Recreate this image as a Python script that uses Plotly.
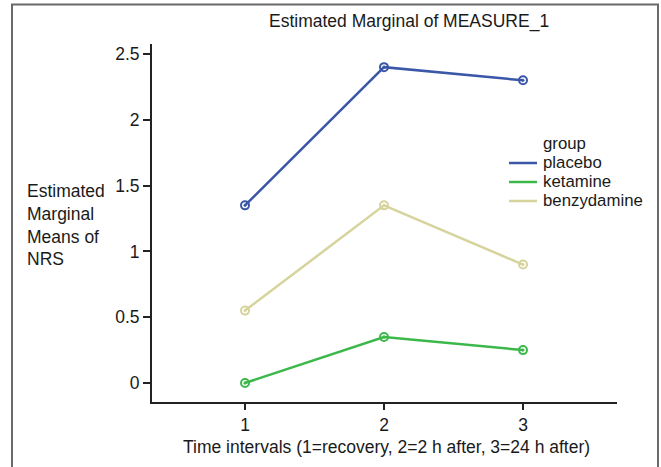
import plotly.graph_objects as go

# ---- data ----
time_points = [1, 2, 3]
groups = ["placebo", "ketamine", "benzydamine"]
placebo = [1.35, 2.40, 2.30]
ketamine = [0.00, 0.35, 0.25]
benzydamine = [0.55, 1.35, 0.90]
y_ticks = [0, 0.5, 1, 1.5, 2, 2.5]
y_tick_labels = ["0", "0.5", "1", "1.5", "2", "2.5"]
x_ticks = [1, 2, 3]
x_tick_labels = ["1", "2", "3"]

series = [placebo, ketamine, benzydamine]
colors = ["#3a57a8", "#3cb84a", "#d6d39c"]

FONT = "Liberation Sans, Arial, sans-serif"
FS = 17.5
LEG_FS = 16.8
TXT = "#1a1a1a"

fig = go.Figure()
for name, vals, col in zip(groups, series, colors):
    fig.add_trace(go.Scatter(
        x=time_points, y=vals, name=name, mode="lines+markers",
        line=dict(color=col, width=2.5),
        marker=dict(symbol="circle-open-dot", size=8, color=col, line=dict(width=2, color=col)),
        showlegend=False, hoverinfo="skip",
    ))

W, H = 661, 467
# target plot area in screen pixels: x 152..617, y 44..402
L, T = 152, 44
R = W - 617
B = H - 402
pw, ph = W - L - R, H - T - B

def px(x):
    return (x - L) / pw

def py(y):
    return 1 - (y - T) / ph

shapes = [
    dict(type="rect", xref="paper", yref="paper",
         x0=px(12), x1=px(658), y0=py(490), y1=py(4.5),
         line=dict(color="#6a6a6a", width=2), fillcolor="rgba(0,0,0,0)", layer="below"),
]
annotations = [
    dict(text="Estimated Marginal of MEASURE_1", xref="paper", yref="paper",
         x=px(409), y=py(22), xanchor="center", yanchor="middle", showarrow=False,
         font=dict(family=FONT, size=FS, color=TXT)),
    dict(text="Time intervals (1=recovery, 2=2 h after, 3=24 h after)", xref="paper", yref="paper",
         x=px(386.5), y=py(447), xanchor="center", yanchor="middle", showarrow=False,
         font=dict(family=FONT, size=FS, color=TXT)),
    dict(text="Estimated<br>Marginal<br>Means of<br>NRS", xref="paper", yref="paper",
         x=px(25), y=py(225), xanchor="left", yanchor="middle", align="left", showarrow=False,
         font=dict(family=FONT, size=FS, color=TXT)),
    dict(text="group", xref="paper", yref="paper",
         x=px(541), y=py(143), xanchor="left", yanchor="middle", showarrow=False,
         font=dict(family=FONT, size=LEG_FS, color=TXT)),
]
leg_y = [162, 181, 200]
for name, col, yy in zip(groups, colors, leg_y):
    shapes.append(dict(type="line", xref="paper", yref="paper",
                       x0=px(509), x1=px(537), y0=py(yy + 1), y1=py(yy + 1),
                       line=dict(color=col, width=2.5)))
    annotations.append(dict(text=name, xref="paper", yref="paper",
                            x=px(541), y=py(yy), xanchor="left", yanchor="middle", showarrow=False,
                            font=dict(family=FONT, size=LEG_FS, color=TXT)))

ymin = -19 / 131.6
ymax = 2.5 + 10 / 131.6
fig.update_layout(
    width=W, height=H,
    margin=dict(l=L, r=R, t=T, b=B, pad=0),
    paper_bgcolor="white", plot_bgcolor="white",
    font=dict(family=FONT, size=FS, color=TXT),
    shapes=shapes, annotations=annotations,
    hovermode=False,
    xaxis=dict(range=[1 - 93 / 139, 3 + 94 / 139], tickvals=x_ticks, ticktext=x_tick_labels,
               showgrid=False, zeroline=False, showline=True, linecolor="#222", linewidth=2,
               ticks="outside", ticklen=6, tickwidth=2, tickcolor="#222",
               tickfont=dict(family=FONT, size=FS, color=TXT)),
    yaxis=dict(range=[ymin, ymax], tickvals=y_ticks, ticktext=y_tick_labels,
               showgrid=False, zeroline=False, showline=True, linecolor="#222", linewidth=2,
               ticks="outside", ticklen=7, tickwidth=2, tickcolor="#222",
               tickfont=dict(family=FONT, size=FS, color=TXT)),
)

fig.write_html("out.html",
               config={"displayModeBar": False, "staticPlot": True},
               post_script="document.body.style.margin='0';document.body.style.overflow='hidden';")
